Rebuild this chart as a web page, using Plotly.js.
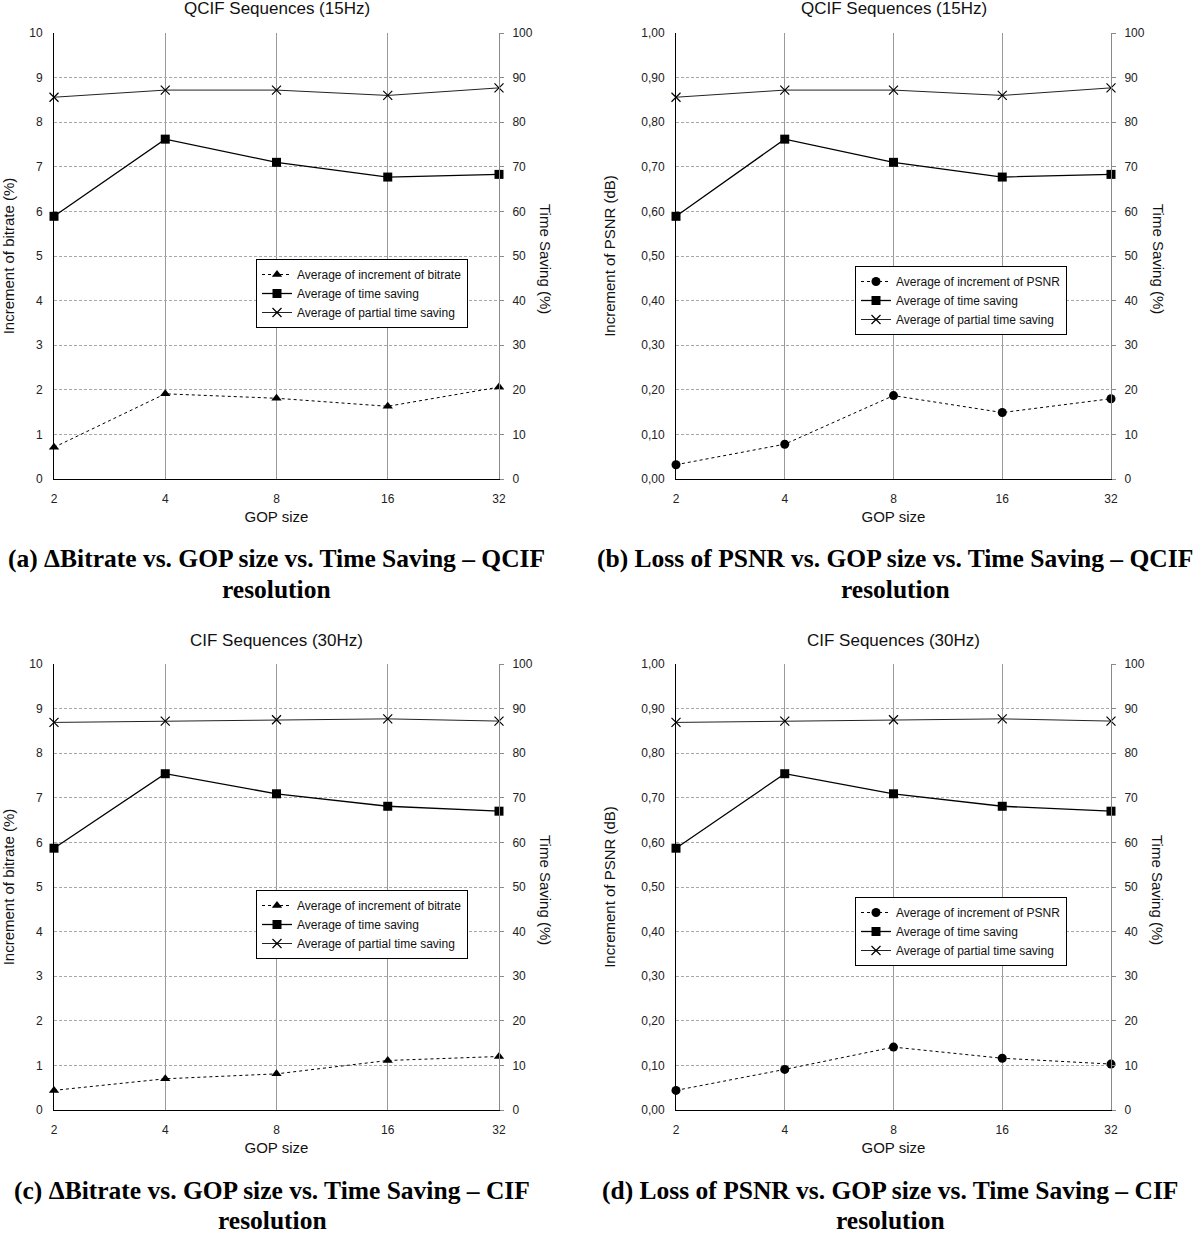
<!DOCTYPE html>
<html>
<head>
<meta charset="utf-8">
<script src="https://cdn.plot.ly/plotly-3.0.1.min.js"></script>
<style>html,body{margin:0;padding:0;background:#fff;}#chart{width:1200px;height:1235px;}</style>
</head>
<body>
<div id="chart"></div>
<script>
// ---- data ----
const gopSizes = [2, 4, 8, 16, 32];
const gopLabels = ['2', '4', '8', '16', '32'];

const qcifBitrate = [0.71, 1.91, 1.81, 1.63, 2.06];
const qcifPsnr = [0.032, 0.078, 0.187, 0.149, 0.180];
const qcifTimeSaving = [58.9, 76.2, 71.0, 67.7, 68.3];
const qcifPartialTimeSaving = [85.6, 87.2, 87.2, 86.0, 87.7];

const cifBitrate = [0.44, 0.70, 0.81, 1.11, 1.20];
const cifPsnr = [0.044, 0.091, 0.141, 0.116, 0.103];
const cifTimeSaving = [58.7, 75.4, 70.9, 68.1, 67.0];
const cifPartialTimeSaving = [86.9, 87.2, 87.5, 87.7, 87.2];

const panelTitles = ['QCIF Sequences (15Hz)', 'QCIF Sequences (15Hz)', 'CIF Sequences (30Hz)', 'CIF Sequences (30Hz)'];
const captionLines = [
  ['(a) \u0394Bitrate vs. GOP size vs. Time Saving \u2013 QCIF', 'resolution'],
  ['(b) Loss of PSNR vs. GOP size vs. Time Saving \u2013 QCIF', 'resolution'],
  ['(c) \u0394Bitrate vs. GOP size vs. Time Saving \u2013 CIF', 'resolution'],
  ['(d) Loss of PSNR vs. GOP size vs. Time Saving \u2013 CIF', 'resolution']
];
const bitrateName = 'Average of increment of bitrate';
const psnrName = 'Average of increment of PSNR';
const timeSavingName = 'Average of time saving';
const partialName = 'Average of partial time saving';
const bitrateAxisTitle = 'Increment of bitrate (%)';
const psnrAxisTitle = 'Increment of PSNR (dB)';
const rightAxisTitle = 'Time Saving (%)';
const xAxisTitle = 'GOP size';

// ---- layout geometry (pixels) ----
const W = 1200, H = 1235;
const FONT = 'Liberation Sans, Arial, Helvetica, sans-serif';
const panels = [
  {inc: qcifBitrate, incName: bitrateName, sym: 'triangle-up', ltitle: bitrateAxisTitle, lrange: [0, 10], ldtick: 1, lfmt: 'd',
   ts: qcifTimeSaving, pts: qcifPartialTimeSaving, l: 54, r: 499, t: 33, b: 479, leg: [256, 259], rtx: 546, lstand: 11, cap: 276, capY: [558, 589], titleY: 9},
  {inc: qcifPsnr, incName: psnrName, sym: 'circle', ltitle: psnrAxisTitle, lrange: [0, 1], ldtick: 0.1, lfmt: '.2f',
   ts: qcifTimeSaving, pts: qcifPartialTimeSaving, l: 676, r: 1111, t: 33, b: 479, leg: [855, 266], rtx: 1159, lstand: 21, cap: 895, capY: [558, 589], titleY: 9},
  {inc: cifBitrate, incName: bitrateName, sym: 'triangle-up', ltitle: bitrateAxisTitle, lrange: [0, 10], ldtick: 1, lfmt: 'd',
   ts: cifTimeSaving, pts: cifPartialTimeSaving, l: 54, r: 499, t: 664, b: 1110, leg: [256, 890], rtx: 546, lstand: 11, cap: 272, capY: [1190, 1220], titleY: 640},
  {inc: cifPsnr, incName: psnrName, sym: 'circle', ltitle: psnrAxisTitle, lrange: [0, 1], ldtick: 0.1, lfmt: '.2f',
   ts: cifTimeSaving, pts: cifPartialTimeSaving, l: 676, r: 1111, t: 664, b: 1110, leg: [855, 897], rtx: 1158, lstand: 21, cap: 890, capY: [1190, 1220], titleY: 640}
];

const px = v => v / W;
const py = v => 1 - v / H;
const EPS = 1e-6;

const traces = [];
const layout = {
  width: W, height: H,
  margin: {l: 0, r: 0, t: 0, b: 0},
  paper_bgcolor: '#fff', plot_bgcolor: '#fff',
  separators: ',.',
  font: {family: FONT, color: '#111'},
  showlegend: true,
  annotations: []
};

panels.forEach((p, i) => {
  const xId = i === 0 ? 'x' : 'x' + (i + 1);
  const yL = 'y' + (2 * i + 1 === 1 ? '' : (2 * i + 1));
  const yR = 'y' + (2 * i + 2);
  const xKey = 'xaxis' + (i === 0 ? '' : (i + 1));
  const yLKey = 'yaxis' + (2 * i + 1 === 1 ? '' : (2 * i + 1));
  const yRKey = 'yaxis' + (2 * i + 2);
  const legKey = 'legend' + (i === 0 ? '' : (i + 1));

  layout[xKey] = {
    domain: [px(p.l), px(p.r)], anchor: yL, type: 'log',
    range: [Math.log10(gopSizes[0]) - EPS, Math.log10(gopSizes[gopSizes.length - 1]) + EPS],
    tickmode: 'array', tickvals: gopSizes, ticktext: gopLabels,
    showgrid: true, gridcolor: '#9a9a9a', gridwidth: 1,
    showline: true, linecolor: '#000', linewidth: 1, mirror: false,
    ticks: '', ticklabelstandoff: 9, zeroline: false,
    tickfont: {size: 12, color: '#222', family: FONT},
    title: {text: xAxisTitle, font: {size: 15, color: '#111', family: FONT}, standoff: 6}
  };
  layout[yLKey] = {
    domain: [py(p.b), py(p.t)], anchor: xId,
    range: p.lrange, dtick: p.ldtick, tick0: 0, tickformat: p.lfmt,
    showgrid: true, gridcolor: '#a8a8a8', griddash: '3px,2px', gridwidth: 1,
    showline: true, linecolor: '#000', linewidth: 1,
    ticks: '', ticklabelstandoff: 8, zeroline: false,
    tickfont: {size: 12, color: '#222', family: FONT},
    title: {text: p.ltitle, font: {size: 15, color: '#111', family: FONT}, standoff: p.lstand}
  };
  layout[yRKey] = {
    overlaying: yL, side: 'right', anchor: xId,
    range: [0, 100], dtick: 10, tick0: 0,
    showgrid: false, showline: true, linecolor: '#8a8a8a', linewidth: 1,
    ticks: 'outside', ticklen: 4, tickcolor: '#8a8a8a', ticklabelstandoff: 6, zeroline: false,
    tickfont: {size: 12, color: '#222', family: FONT}
  };
  layout[legKey] = {
    x: px(p.leg[0]), y: py(p.leg[1]), xanchor: 'left', yanchor: 'top',
    bgcolor: '#fff', bordercolor: '#000', borderwidth: 1,
    font: {size: 12, color: '#111', family: FONT},
    tracegroupgap: 0
  };

  traces.push({
    x: gopSizes, y: p.inc, xaxis: xId, yaxis: yL, legend: legKey,
    name: p.incName, type: 'scatter', mode: 'lines+markers', cliponaxis: false,
    line: {color: '#000', width: 1, dash: '3px,3px'},
    marker: {symbol: p.sym, size: 9, color: '#000'}
  });
  traces.push({
    x: gopSizes, y: p.ts, xaxis: xId, yaxis: yR, legend: legKey,
    name: timeSavingName, type: 'scatter', mode: 'lines+markers', cliponaxis: false,
    line: {color: '#000', width: 1.3},
    marker: {symbol: 'square', size: 9, color: '#000'}
  });
  traces.push({
    x: gopSizes, y: p.pts, xaxis: xId, yaxis: yR, legend: legKey,
    name: partialName, type: 'scatter', mode: 'lines+markers', cliponaxis: false,
    line: {color: '#222', width: 1},
    marker: {symbol: 'x-thin', size: 9, color: '#000', line: {color: '#000', width: 1.2}}
  });

  // panel title
  layout.annotations.push({
    xref: 'paper', yref: 'paper', x: px((p.l + p.r) / 2), y: py(p.titleY),
    xanchor: 'center', yanchor: 'middle', showarrow: false,
    text: panelTitles[i], font: {size: 17, color: '#111', family: FONT}
  });
  // right axis title (reads top-to-bottom)
  layout.annotations.push({
    xref: 'paper', yref: 'paper', x: px(p.rtx), y: py((p.t + p.b) / 2 + 3),
    xanchor: 'center', yanchor: 'middle', showarrow: false, textangle: 90,
    text: rightAxisTitle, font: {size: 15, color: '#111', family: FONT}
  });
  // captions
  captionLines[i].forEach((line, k) => {
    layout.annotations.push({
      xref: 'paper', yref: 'paper', x: px(p.cap), y: py(p.capY[k]),
      xanchor: 'center', yanchor: 'middle', showarrow: false,
      text: line, font: {size: 25.5, color: '#000', family: 'Liberation Serif, Times New Roman, serif', weight: 700}
    });
  });
});

Plotly.newPlot('chart', traces, layout, {displayModeBar: false, staticPlot: true});
</script>
</body>
</html>
